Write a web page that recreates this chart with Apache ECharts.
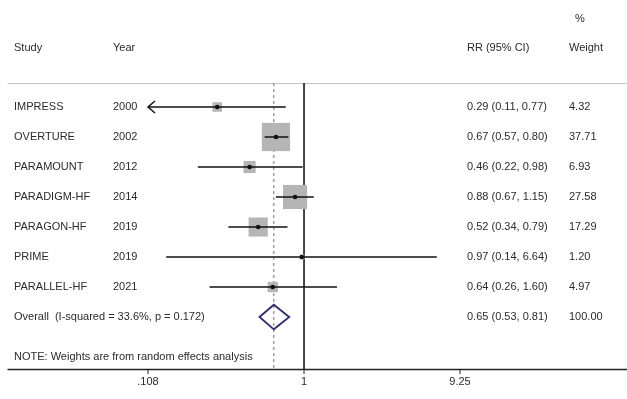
<!DOCTYPE html>
<html>
<head>
<meta charset="utf-8">
<script src="https://cdn.jsdelivr.net/npm/echarts@6/dist/echarts.min.js"></script>
<style>
html,body{margin:0;padding:0;background:#fff;}
#chart{width:627px;height:399px;}
</style>
</head>
<body>
<div id="chart"></div>
<script>
// ---- data ----
const studies = ['IMPRESS', 'OVERTURE', 'PARAMOUNT', 'PARADIGM-HF', 'PARAGON-HF', 'PRIME', 'PARALLEL-HF'];
const years = ['2000', '2002', '2012', '2014', '2019', '2019', '2021'];
const rr = [0.29, 0.67, 0.46, 0.88, 0.52, 0.97, 0.64];
const ciLow = [0.107, 0.57, 0.22, 0.67, 0.34, 0.14, 0.26];
const ciHigh = [0.77, 0.80, 0.98, 1.15, 0.79, 6.64, 1.60];
const weights = [4.32, 37.71, 6.93, 27.58, 17.29, 1.20, 4.97];
const overallLabel = 'Overall  (I-squared = 33.6%, p = 0.172)';
const overallRR = 0.65, overallLow = 0.53, overallHigh = 0.81, overallWeight = 100.00;
const noteText = 'NOTE: Weights are from random effects analysis';
const xTickValues = [0.108, 1, 9.25];
const xTickLabels = ['.108', '1', '9.25'];
const headers = {study: 'Study', year: 'Year', rr: 'RR (95% CI)', pct: '%', weight: 'Weight'};

// ---- layout / style ----
const FONT = '"Liberation Sans", Arial, sans-serif';
const TXT = '#2b2b2b';
const X_MIN = 0.01466, X_MAX = 100.2;
const Y_MIN = -0.8, Y_MAX = 8.733;
const CLIP_LO = xTickValues[0], CLIP_HI = xTickValues[xTickValues.length - 1];
const COL = {study: 14, year: 113, rr: 467, weight: 569};
const BOX_K = 4.6;
const overallIdx = studies.length;
const noteIdx = overallIdx + 1.33;

const chart = echarts.init(document.getElementById('chart'), null, {renderer: 'canvas'});

function fmt(v) { return v.toFixed(2); }

function txt(x, y, s, align) {
  return {type: 'text', style: {x: x, y: y, text: s, fill: TXT, fontSize: 11, fontFamily: FONT,
    align: align || 'left', verticalAlign: 'middle'}};
}

const studyData = studies.map((s, i) => [rr[i], i, ciLow[i], ciHigh[i], weights[i]]);

const tableData = studies.map((s, i) => [1, i]);
tableData.push([1, overallIdx]);
tableData.push([1, noteIdx]);

const option = {
  animation: false,
  backgroundColor: '#ffffff',
  grid: {left: 8, right: 0, top: 83, bottom: 30},
  xAxis: [
    {type: 'log', logBase: 10, min: X_MIN, max: X_MAX, position: 'bottom',
     axisLine: {show: true, onZero: false, lineStyle: {color: '#222', width: 1.3}},
     axisTick: {show: false}, axisLabel: {show: false}, splitLine: {show: false}},
    {type: 'log', logBase: 10, min: X_MIN, max: X_MAX, position: 'top',
     axisLine: {show: true, onZero: false, lineStyle: {color: '#c4c4c4', width: 1}},
     axisTick: {show: false}, axisLabel: {show: false}, splitLine: {show: false}}
  ],
  yAxis: {type: 'value', inverse: true, min: Y_MIN, max: Y_MAX, show: false},
  graphic: [
    txt(COL.study, 48, headers.study),
    txt(COL.year, 48, headers.year),
    txt(COL.rr, 48, headers.rr),
    txt(COL.weight + 6, 19, headers.pct),
    txt(COL.weight, 48, headers.weight)
  ],
  series: [
    // reference lines (null line at 1 and overall dashed)
    {
      type: 'custom', z: 1, encode: {x: 0, y: 1},
      data: [[1, Y_MIN, 0], [overallRR, Y_MIN, 1]],
      renderItem: function (params, api) {
        const v = api.value(0);
        const p1 = api.coord([v, Y_MIN]);
        const p2 = api.coord([v, Y_MAX]);
        const dashed = api.value(2) === 1;
        return {type: 'line', shape: {x1: p1[0], y1: p1[1], x2: p2[0], y2: p2[1]},
          style: dashed ? {stroke: '#a0605e', lineWidth: 1, lineDash: [3, 3]}
                        : {stroke: '#1a1a1a', lineWidth: 1.6}};
      }
    },
    // studies: box, CI line, point
    {
      type: 'custom', z: 3, encode: {x: 0, y: 1},
      data: studyData,
      renderItem: function (params, api) {
        const i = api.value(1);
        const c = api.coord([api.value(0), i]);
        const lo = api.value(2), hi = api.value(3), w = api.value(4);
        const side = BOX_K * Math.sqrt(w);
        const arrowL = lo < CLIP_LO, arrowR = hi > CLIP_HI;
        const pL = api.coord([Math.max(lo, CLIP_LO), i]);
        const pR = api.coord([Math.min(hi, CLIP_HI), i]);
        const children = [
          {type: 'rect', shape: {x: c[0] - side / 2, y: c[1] - side / 2, width: side, height: side},
           style: {fill: '#b5b5b5'}},
          {type: 'line', shape: {x1: pL[0], y1: pL[1], x2: pR[0], y2: pR[1]},
           style: {stroke: '#111', lineWidth: 1.5}},
          {type: 'circle', shape: {cx: c[0], cy: c[1], r: 2.3}, style: {fill: '#111'}}
        ];
        if (arrowL) {
          children.push({type: 'polyline', shape: {points: [[pL[0] + 7, pL[1] - 6], [pL[0], pL[1]], [pL[0] + 7, pL[1] + 6]]},
            style: {stroke: '#111', lineWidth: 1.5, fill: null}});
        }
        if (arrowR) {
          children.push({type: 'polyline', shape: {points: [[pR[0] - 7, pR[1] - 6], [pR[0], pR[1]], [pR[0] - 7, pR[1] + 6]]},
            style: {stroke: '#111', lineWidth: 1.5, fill: null}});
        }
        return {type: 'group', children: children};
      }
    },
    // overall diamond
    {
      type: 'custom', z: 4, encode: {x: 0, y: 1},
      data: [[overallRR, overallIdx, overallLow, overallHigh]],
      renderItem: function (params, api) {
        const i = api.value(1);
        const top = api.coord([api.value(0), i - 0.41]);
        const bot = api.coord([api.value(0), i + 0.41]);
        const l = api.coord([api.value(2), i]);
        const r = api.coord([api.value(3), i]);
        return {type: 'polygon', shape: {points: [l, top, r, bot]},
          style: {stroke: '#2e2b6e', lineWidth: 1.8, fill: null}};
      }
    },
    // table text
    {
      type: 'custom', z: 5, encode: {x: 0, y: 1},
      data: tableData,
      renderItem: function (params, api) {
        const idx = params.dataIndex;
        const y = api.coord([1, api.value(1)])[1];
        if (idx < studies.length) {
          return {type: 'group', children: [
            txt(COL.study, y, studies[idx]),
            txt(COL.year, y, years[idx]),
            txt(COL.rr, y, fmt(rr[idx]) + ' (' + fmt(ciLow[idx]) + ', ' + fmt(ciHigh[idx]) + ')'),
            txt(COL.weight, y, fmt(weights[idx]))
          ]};
        } else if (idx === studies.length) {
          return {type: 'group', children: [
            txt(COL.study, y, overallLabel),
            txt(COL.rr, y, fmt(overallRR) + ' (' + fmt(overallLow) + ', ' + fmt(overallHigh) + ')'),
            txt(COL.weight, y, fmt(overallWeight))
          ]};
        }
        return txt(COL.study, y, noteText);
      }
    },
    // x ticks and labels
    {
      type: 'custom', z: 5, encode: {x: 0, y: 1},
      data: xTickValues.map(v => [v, Y_MAX]),
      renderItem: function (params, api) {
        const p = api.coord([api.value(0), Y_MAX]);
        return {type: 'group', children: [
          {type: 'line', shape: {x1: p[0], y1: p[1], x2: p[0], y2: p[1] + 5}, style: {stroke: '#222', lineWidth: 1}},
          {type: 'text', style: {x: p[0], y: p[1] + 13, text: xTickLabels[params.dataIndex], fill: TXT,
            fontSize: 11, fontFamily: FONT, align: 'center', verticalAlign: 'middle'}}
        ]};
      }
    }
  ]
};
chart.setOption(option);
</script>
</body>
</html>
